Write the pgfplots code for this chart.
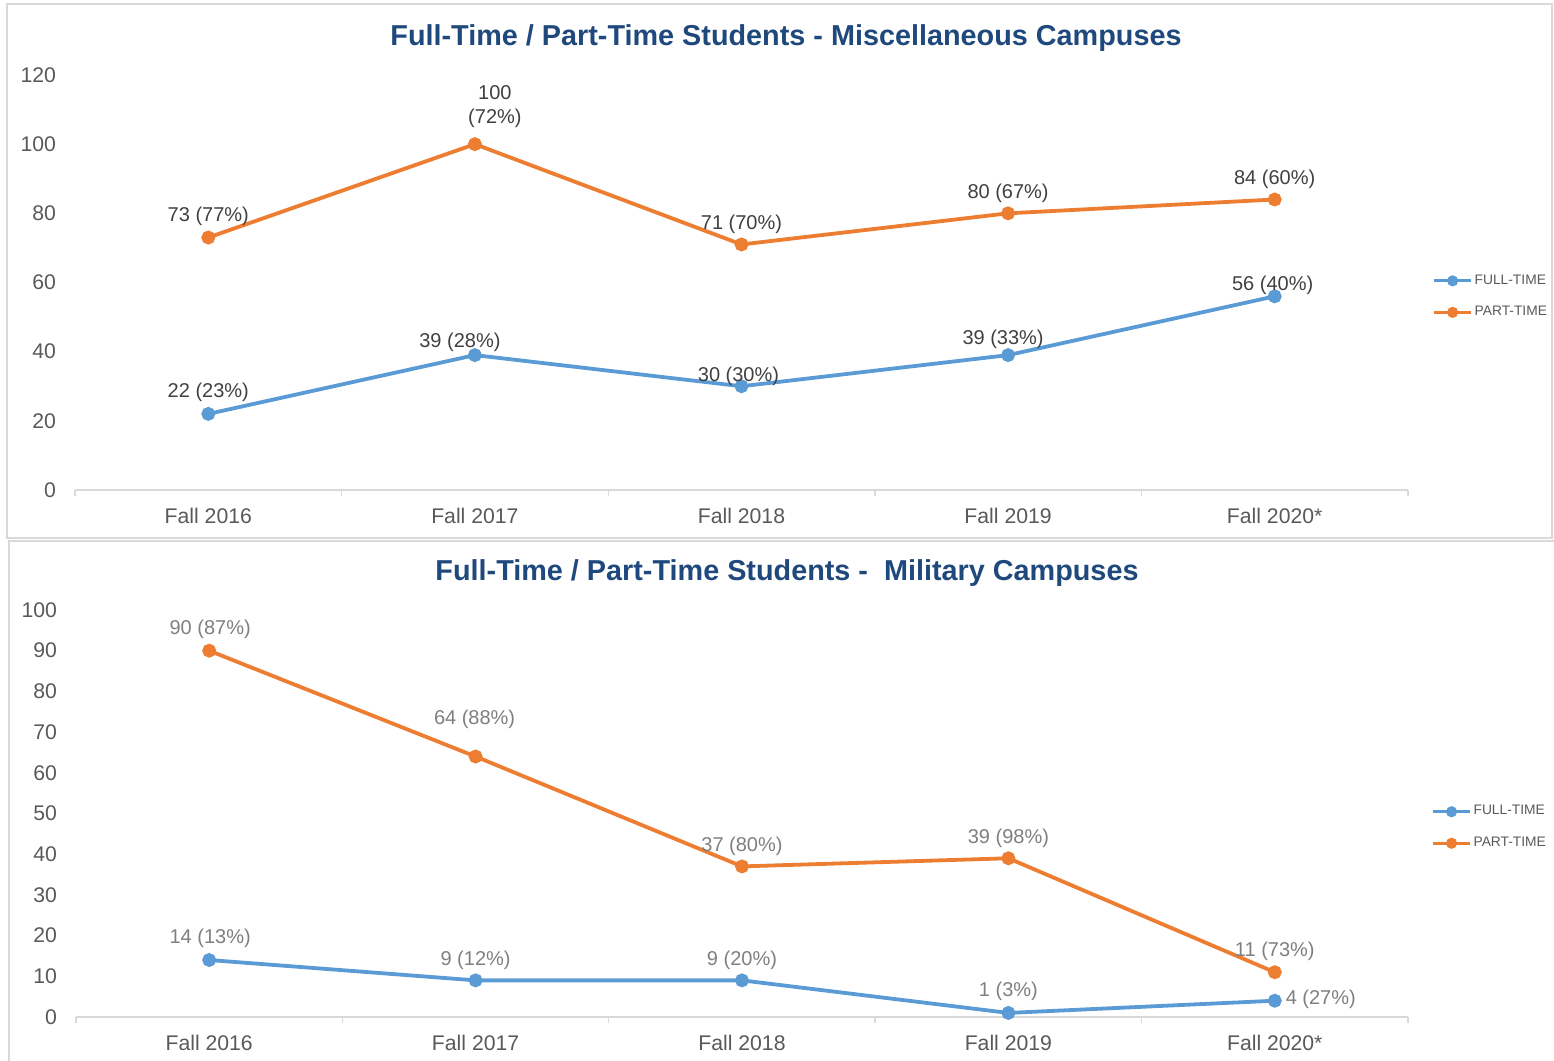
\documentclass[border=0pt]{standalone}
\usepackage{fontspec}
\setmainfont{Liberation Sans}
\usepackage{pgfplots}
\pgfplotsset{compat=1.18}

\definecolor{ftblue}{HTML}{5B9BD5}
\definecolor{ptorange}{HTML}{ED7D31}
\definecolor{titleblue}{HTML}{1F497D}
\definecolor{ticktext}{HTML}{595959}
\definecolor{axisgrey}{HTML}{D9D9D9}
\definecolor{framegrey}{HTML}{D9D9D9}
\definecolor{labeldark}{HTML}{404040}
\definecolor{labellight}{HTML}{7F7F7F}

\pgfplotsset{
  campus/.style={
    scale only axis,
    anchor=south west,
    xmin=-0.5, xmax=4.5, ymin=0,
    axis x line=bottom,
    axis y line=left,
    x axis line style={-, draw=axisgrey, line width=0.7pt},
    y axis line style={draw=none},
    xtick={0,1,2,3,4},
    xticklabels={Fall 2016,Fall 2017,Fall 2018,Fall 2019,Fall 2020*},
    minor xtick={-0.5,0.5,1.5,2.5,3.5,4.5},
    major tick length=0pt,
    minor tick length=3pt,
    tick align=outside,
    minor tick style={draw=axisgrey, line width=0.7pt},
    tick label style={font=\fontsize{10.6}{12}\selectfont, text=ticktext},
    /pgf/number format/assume math mode=true,
    yticklabel style={xshift=-6pt},
    xticklabel style={yshift=-5.5pt},
    clip=false,
    point meta=explicit symbolic,
    visualization depends on={\thisrow{dx} \as \dx},
    visualization depends on={\thisrow{dy} \as \dy},
    nodes near coords,
    nodes near coords style={anchor=center, inner sep=0pt, align=center,
      font=\fontsize{10}{12}\selectfont,
      xshift=\dx*0.5pt, yshift=\dy*0.5pt-1.3pt},
    legend cell align=left,
    legend style={draw=none, fill=none, inner sep=0pt, outer sep=0pt,
      font=\fontsize{6.9}{8}\selectfont, text=ticktext,
      row sep=7.5pt, nodes={inner sep=1pt}},
    legend image code/.code={\draw[#1, line width=1.5pt, mark size=2pt, mark repeat=2, mark phase=2]
      plot coordinates {(0pt,0pt) (9.25pt,0pt) (18.5pt,0pt)};},
  },
  series/.style={line width=1.9pt, mark=*, mark size=2.5pt, mark options={solid}},
}

\begin{document}
\begin{tikzpicture}[x=0.5pt, y=0.5pt]
  \useasboundingbox (0,0) rectangle (1554,1061);

  % chart frames
  \draw[framegrey, line width=0.6pt] (7,1057) rectangle (1552,523);
  \draw[framegrey, line width=0.6pt] (9,0) -- (9,520) -- (1560,520);

  % titles
  \node[font=\fontsize{14.4}{17}\selectfont\bfseries, text=titleblue] at (786,1023)
    {Full-Time / Part-Time Students - Miscellaneous Campuses};
  \node[font=\fontsize{14.4}{17}\selectfont\bfseries, text=titleblue] at (787,488)
    {Full-Time / Part-Time Students - \ Military Campuses};

  % miscellaneous campuses
  \begin{axis}[campus,
      at={(37.5pt,285.5pt)}, width=666.5pt, height=207.5pt,
      ymax=120, ytick={0,20,...,120},
      nodes near coords style={text=labeldark},
      legend style={at={(1.0185,0.466)}, anchor=west}]
    \addplot[series, color=ftblue] table[col sep=comma, x=x, y=y, meta=label] {
x,y,dx,dy,label
0,22,0,24,22 (23\%)
1,39,-15,15,39 (28\%)
2,30,-3,13,30 (30\%)
3,39,-5,18,39 (33\%)
4,56,-2,14,56 (40\%)
};
    \addlegendentry{FULL-TIME}
    \addplot[series, color=ptorange] table[col sep=comma, x=x, y=y, meta=label] {
x,y,dx,dy,label
0,73,0,24,73 (77\%)
1,100,20,40,{100\\(72\%)}
2,71,0,23,71 (70\%)
3,80,0,23,80 (67\%)
4,84,0,23,84 (60\%)
};
    \addlegendentry{PART-TIME}
  \end{axis}

  % military campuses
  \begin{axis}[campus,
      at={(38pt,22pt)}, width=666pt, height=203.5pt,
      ymax=100, ytick={0,10,...,100},
      nodes near coords style={text=labellight},
      legend style={at={(1.0177,0.4656)}, anchor=west}]
    \addplot[series, color=ftblue] table[col sep=comma, x=x, y=y, meta=label] {
x,y,dx,dy,label
0,14,1,24,14 (13\%)
1,9,0,23,9 (12\%)
2,9,0,23,9 (20\%)
3,1,0,24,1 (3\%)
4,4,46,4,4 (27\%)
};
    \addlegendentry{FULL-TIME}
    \addplot[series, color=ptorange] table[col sep=comma, x=x, y=y, meta=label] {
x,y,dx,dy,label
0,90,1,24,90 (87\%)
1,64,-1,40,64 (88\%)
2,37,0,23,37 (80\%)
3,39,0,23,39 (98\%)
4,11,0,24,11 (73\%)
};
    \addlegendentry{PART-TIME}
  \end{axis}
\end{tikzpicture}
\end{document}
